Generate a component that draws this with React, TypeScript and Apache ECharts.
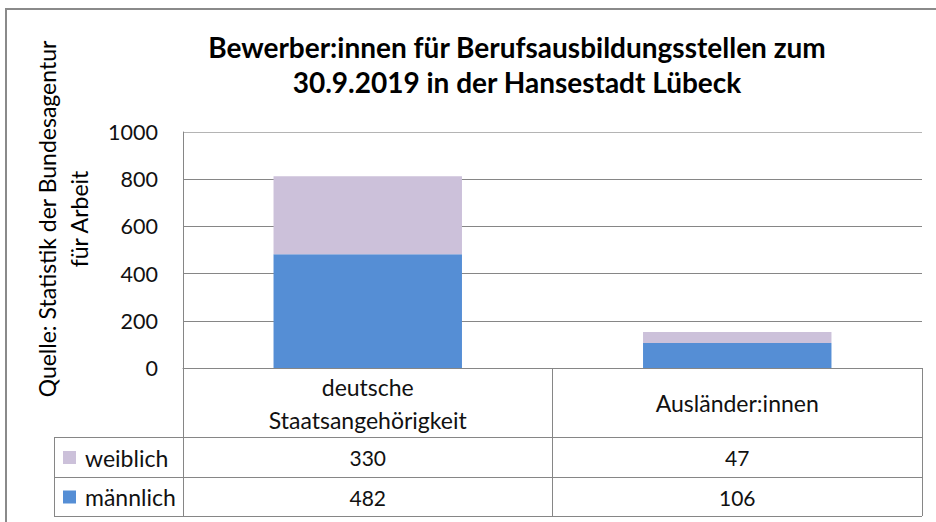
import React, { useEffect, useRef } from "react";
import * as echarts from "echarts";

// ---- data ----
const categories = ["deutsche\nStaatsangehörigkeit", "Ausländer:innen"];
const weiblich = [330, 47];
const maennlich = [482, 106];
const seriesNames = ["weiblich", "männlich"];
const yMin = 0;
const yMax = 1000;
const yInterval = 200;
const titleLines = ["Bewerber:innen für Berufsausbildungsstellen zum", "30.9.2019 in der Hansestadt Lübeck"];
const axisTitleLines = ["Quelle: Statistik der Bundesagentur", "für Arbeit"];

// ---- styles / layout ----
const COL_W = "#ccc1da";
const COL_M = "#558ed5";
const GRID_COLOR = "#868686";
const TEXT = "#111";
const FONT = "Lato";
const W = 936;
const H = 522;
const plotL = 183;
const plotR = 922;
const plotT = 132;
const plotB = 368;
const rowYs = [437, 477, 516];
const tableL = 54;

export default function App() {
  const ref = useRef<HTMLDivElement>(null);

  useEffect(() => {
    document.body.style.margin = "0";
    if (!ref.current) return;
    const chart = echarts.init(ref.current, undefined, { renderer: "svg" });

    const colW = (plotR - plotL) / categories.length;
    const rows = [
      { name: seriesNames[0], color: COL_W, values: weiblich },
      { name: seriesNames[1], color: COL_M, values: maennlich },
    ];

    const graphic: any[] = [];
    // outer frame
    graphic.push({
      type: "rect",
      shape: { x: 6, y: 9, width: 1000, height: 600 },
      style: { fill: "none", stroke: "#8a8a8a", lineWidth: 2 },
      silent: true,
    });
    // title
    graphic.push({
      type: "text",
      x: 517,
      y: 64,
      style: {
        text: titleLines.join("\n"),
        fontFamily: FONT,
        fontWeight: "bold",
        fontSize: 28,
        lineHeight: 35,
        align: "center",
        verticalAlign: "middle",
        fill: "#000",
      },
    });
    // rotated axis title
    graphic.push({
      type: "text",
      x: 63,
      y: 219,
      rotation: Math.PI / 2,
      style: {
        text: axisTitleLines.join("\n"),
        fontFamily: FONT,
        fontSize: 23,
        lineHeight: 32,
        align: "center",
        verticalAlign: "middle",
        fill: "#000",
      },
    });
    // table horizontal lines
    rowYs.forEach((y) => {
      graphic.push({
        type: "line",
        shape: { x1: tableL, y1: y + 0.5, x2: plotR, y2: y + 0.5 },
        style: { stroke: GRID_COLOR, lineWidth: 1 },
        silent: true,
      });
    });
    // left edge of legend column
    graphic.push({
      type: "line",
      shape: { x1: tableL + 0.5, y1: rowYs[0], x2: tableL + 0.5, y2: rowYs[rowYs.length - 1] },
      style: { stroke: GRID_COLOR, lineWidth: 1 },
      silent: true,
    });
    // rows
    rows.forEach((r, ri) => {
      const cy = (rowYs[ri] + rowYs[ri + 1]) / 2 + 0.5;
      graphic.push({
        type: "rect",
        shape: { x: 63, y: cy - 6.5, width: 13, height: 13 },
        style: { fill: r.color },
        silent: true,
      });
      graphic.push({
        type: "text",
        x: 85,
        y: cy,
        style: {
          text: r.name,
          fontFamily: FONT,
          fontSize: 23,
          align: "left",
          verticalAlign: "middle",
          fill: TEXT,
        },
      });
      r.values.forEach((v, ci) => {
        graphic.push({
          type: "text",
          x: plotL + (ci + 0.5) * colW,
          y: cy,
          style: {
            text: String(v),
            fontFamily: FONT,
            fontSize: 21,
            align: "center",
            verticalAlign: "middle",
            fill: TEXT,
          },
        });
      });
    });

    chart.setOption({
      animation: false,
      textStyle: { fontFamily: FONT },
      grid: { left: plotL, right: W - plotR, top: plotT, bottom: H - plotB, containLabel: false },
      xAxis: {
        type: "category",
        data: categories,
        boundaryGap: true,
        axisLine: { show: true, lineStyle: { color: GRID_COLOR, width: 1 } },
        axisTick: { show: true, length: rowYs[rowYs.length - 1] - plotB, lineStyle: { color: GRID_COLOR, width: 1 } },
        axisLabel: {
          interval: 0,
          fontFamily: FONT,
          fontSize: 23,
          lineHeight: 33,
          color: TEXT,
          verticalAlign: "middle",
          margin: 35,
        },
      },
      yAxis: {
        type: "value",
        min: yMin,
        max: yMax,
        interval: yInterval,
        axisLine: { show: true, lineStyle: { color: GRID_COLOR, width: 1 } },
        axisTick: { show: false },
        axisLabel: {
          fontFamily: FONT,
          fontSize: 21.5,
          color: TEXT,
          margin: 25,
          formatter: (v: number) => String(v),
        },
        splitLine: {
          show: true,
          lineStyle: { color: [GRID_COLOR, GRID_COLOR, GRID_COLOR, GRID_COLOR, GRID_COLOR, "#b4b4b4"], width: 1 },
        },
      },
      series: [
        {
          name: seriesNames[1],
          type: "bar",
          stack: "total",
          data: maennlich,
          barWidth: "51%",
          itemStyle: { color: COL_M },
        },
        {
          name: seriesNames[0],
          type: "bar",
          stack: "total",
          data: weiblich,
          barWidth: "51%",
          itemStyle: { color: COL_W },
        },
      ],
      graphic,
    });

    return () => chart.dispose();
  }, []);

  return (
    <div
      ref={ref}
      style={{ position: "absolute", left: 0, top: 0, width: W, height: H, background: "#fff" }}
    />
  );
}
